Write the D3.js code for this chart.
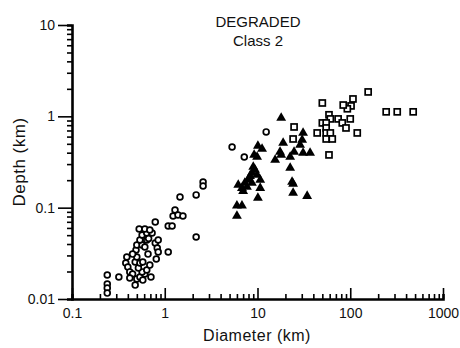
<!DOCTYPE html>
<html>
<head>
<meta charset="utf-8">
<script src="https://cdn.jsdelivr.net/npm/d3@7"></script>
<style>
  body { margin: 0; background: #fff; }
  text { font-family: "Liberation Sans", "DejaVu Sans", sans-serif; fill: #111; }
</style>
</head>
<body>
<svg id="chart" width="460" height="348"></svg>
<script>
// [diameter km, depth km]
const circles = [
  [0.24, 0.0183], [0.24, 0.0146], [0.24, 0.0132], [0.24, 0.0116], [0.32, 0.0174],
  [0.39, 0.0288], [0.38, 0.0248], [0.40, 0.0224], [0.42, 0.0198], [0.45, 0.0188],
  [0.50, 0.0166], [0.54, 0.0174], [0.61, 0.0188], [0.71, 0.0174], [0.57, 0.0198],
  [0.52, 0.0219], [0.48, 0.0254], [0.54, 0.0248], [0.58, 0.0254], [0.50, 0.0288],
  [0.49, 0.0344], [0.50, 0.039], [0.57, 0.039], [0.61, 0.0371], [0.54, 0.0443],
  [0.57, 0.0502], [0.64, 0.0528], [0.73, 0.0528], [0.53, 0.0584], [0.61, 0.0584],
  [0.69, 0.057], [0.79, 0.0697], [0.64, 0.0443], [0.79, 0.041], [0.85, 0.0443],
  [0.83, 0.0362], [0.85, 0.0327], [0.81, 0.0274], [0.58, 0.0161], [0.64, 0.0208],
  [0.45, 0.031], [0.66, 0.031], [0.69, 0.0235], [0.42, 0.017], [0.48, 0.0142],
  [0.67, 0.046], [1.09, 0.0327], [1.09, 0.063], [1.2, 0.063], [1.29, 0.0944],
  [1.23, 0.0811], [1.39, 0.0832], [1.57, 0.0811], [2.18, 0.0478], [1.46, 0.131],
  [2.18, 0.138], [2.59, 0.191], [2.59, 0.173], [5.32, 0.462], [7.2, 0.359],
  [12.4, 0.675]
];

const triangles = [
  [10.1, 0.474], [11.2, 0.44], [9.2, 0.378], [9.9, 0.359], [9.0, 0.279],
  [8.7, 0.240], [8.3, 0.222], [7.9, 0.201], [9.9, 0.228], [10.7, 0.201],
  [6.2, 0.177], [6.8, 0.164], [7.0, 0.152], [7.7, 0.169], [8.7, 0.187],
  [10.7, 0.164], [10.1, 0.128], [6.0, 0.105], [6.8, 0.105], [6.0, 0.081],
  [7.3, 0.187], [9.4, 0.259], [18.0, 0.96], [18.9, 0.511], [17.5, 0.407],
  [18.0, 0.378], [15.5, 0.333], [22.5, 0.359], [24.8, 0.407], [31.0, 0.658],
  [30.3, 0.551], [28.8, 0.486], [31.0, 0.397], [36.9, 0.397], [22.5, 0.272],
  [23.6, 0.191], [24.2, 0.182], [24.2, 0.145], [34.3, 0.134]
];

const squares = [
  [156, 1.85], [50, 1.40], [107, 1.55], [102, 1.30], [93, 1.21],
  [84, 1.33], [59, 1.04], [61, 0.937], [50, 0.847], [55, 0.847],
  [55, 0.746], [74, 0.937], [82, 0.847], [90, 0.746], [100, 0.937],
  [44, 0.658], [55, 0.658], [61, 0.658], [55, 0.565], [64, 0.565],
  [119, 0.658], [244, 1.12], [321, 1.12], [477, 1.12], [24.8, 0.765],
  [24.2, 0.565], [59, 0.378]
];

const xTicks = [0.1, 1, 10, 100, 1000];
const xTickLabels = ["0.1", "1", "10", "100", "1000"];
const yTicks = [0.01, 0.1, 1, 10];
const yTickLabels = ["0.01", "0.1", "1", "10"];

const svg = d3.select("#chart");

const x = d3.scaleLog().domain([0.1, 1000]).range([72, 443]);
const y = d3.scaleLog().domain([0.01, 10]).range([299, 25]);

function minors(lo, hi) {
  const out = [];
  for (let p = lo; p < hi; p *= 10) {
    for (let k = 2; k <= 9; k++) out.push(p * k);
  }
  return out;
}

// x axis: ticks point up into the plot
const xAxis = svg.append("g").attr("transform", "translate(0,299)");
xAxis.call(d3.axisBottom(x).tickValues(minors(0.1, 1000)).tickSize(-5).tickFormat(""));
const xMajor = svg.append("g").attr("transform", "translate(0,299)")
  .call(d3.axisBottom(x).tickValues(xTicks).tickSize(-11).tickPadding(0)
    .tickFormat((d, i) => xTickLabels[i]));
xMajor.select(".domain").remove();
xMajor.selectAll(".tick text")
  .attr("y", 19).attr("dy", 0)
  .style("font-size", "14px");

// y axis: ticks point out to the left
const yAxis = svg.append("g").attr("transform", "translate(72,0)");
yAxis.call(d3.axisLeft(y).tickValues(minors(0.01, 10)).tickSize(5).tickFormat(""));
const yMajor = svg.append("g").attr("transform", "translate(72,0)")
  .call(d3.axisLeft(y).tickValues(yTicks).tickSize(14).tickPadding(3)
    .tickFormat((d, i) => yTickLabels[i]));
yMajor.select(".domain").remove();
yMajor.selectAll(".tick text").style("font-size", "14px");

svg.selectAll(".tick line").attr("stroke", "#000").attr("stroke-width", 1.6);
svg.selectAll(".domain").attr("stroke-width", 2.6).attr("stroke", "#000");

// markers
svg.append("g").selectAll("circle")
  .data(circles)
  .enter().append("circle")
  .attr("cx", d => x(d[0]))
  .attr("cy", d => y(d[1]))
  .attr("r", 2.9)
  .attr("fill", "#fff")
  .attr("stroke", "#000")
  .attr("stroke-width", 1.7);

const tri = d3.symbol().type(d3.symbolTriangle).size(42);
svg.append("g").selectAll("path")
  .data(triangles)
  .enter().append("path")
  .attr("d", tri)
  .attr("transform", d => `translate(${x(d[0])},${y(d[1])})`)
  .attr("fill", "#000");

svg.append("g").selectAll("rect")
  .data(squares)
  .enter().append("rect")
  .attr("x", d => x(d[0]) - 3)
  .attr("y", d => y(d[1]) - 3)
  .attr("width", 6)
  .attr("height", 6)
  .attr("fill", "#fff")
  .attr("stroke", "#000")
  .attr("stroke-width", 1.7);

// titles
svg.append("text")
  .attr("x", 258).attr("y", 27)
  .attr("text-anchor", "middle")
  .style("font-size", "15px")
  .text("DEGRADED");
svg.append("text")
  .attr("x", 258).attr("y", 46)
  .attr("text-anchor", "middle")
  .style("font-size", "15px")
  .text("Class 2");

svg.append("text")
  .attr("x", 257).attr("y", 341)
  .attr("text-anchor", "middle")
  .style("font-size", "16px")
  .style("letter-spacing", "0.5px")
  .text("Diameter (km)");

svg.append("text")
  .attr("transform", "translate(25,162) rotate(-90)")
  .attr("text-anchor", "middle")
  .style("font-size", "17px")
  .style("letter-spacing", "0.5px")
  .text("Depth (km)");
</script>
</body>
</html>
